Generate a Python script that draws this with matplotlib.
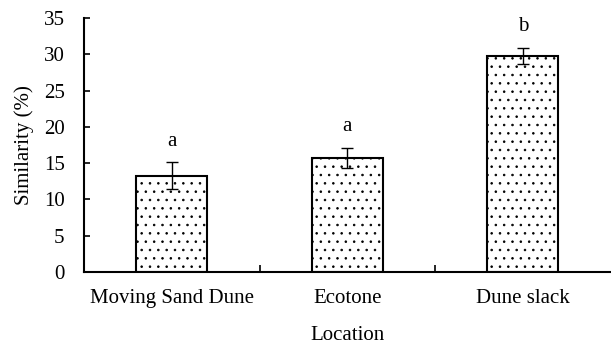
import numpy as np
import matplotlib.pyplot as plt

plt.rcParams['font.family'] = ['Liberation Serif', 'DejaVu Serif']
plt.rcParams['hatch.linewidth'] = 0.6

# data
locations = ['Moving Sand Dune', 'Ecotone', 'Dune slack']
similarity = [13.3, 15.7, 29.8]
errors = [1.8, 1.4, 1.1]
letters = ['a', 'a', 'b']
yticks = [0, 5, 10, 15, 20, 25, 30, 35]

fs = 15
fig = plt.figure(figsize=(6.11, 3.47), dpi=100)
ax = fig.add_axes([0.1375, 0.216, 0.862, 0.732])

x = np.arange(len(locations))
ax.bar(x, similarity, width=0.405, color='white', edgecolor='black',
       linewidth=1.5, hatch='..')
ax.errorbar(x, similarity, yerr=errors, fmt='none', ecolor='black',
            elinewidth=1.0, capsize=4, capthick=1.0)
for xi, v, e, t in zip(x, similarity, errors, letters):
    ax.text(xi, v + e + 2.9, t, ha='center', va='center', fontsize=fs)

ax.set_xlim(-0.5, len(locations) - 0.5)
ax.set_ylim(0, 35)
ax.set_yticks(yticks)
ax.set_xticks(x)
ax.set_xticklabels(locations, fontsize=fs)
ax.tick_params(axis='y', direction='in', length=4, width=1.2, labelsize=fs, pad=14)
ax.tick_params(axis='x', length=0, pad=12)
# category boundary ticks
ax.set_xticks(x[:-1] + 0.5, minor=True)
ax.tick_params(axis='x', which='minor', direction='in', length=5, width=1.2)

for s in ['top', 'right']:
    ax.spines[s].set_visible(False)
for s in ['left', 'bottom']:
    ax.spines[s].set_linewidth(1.5)

ax.set_ylabel('Similarity (%)', fontsize=fs, labelpad=7)
ax.set_xlabel('Location', fontsize=fs, labelpad=13)

fig.savefig('out.png', dpi=100)
